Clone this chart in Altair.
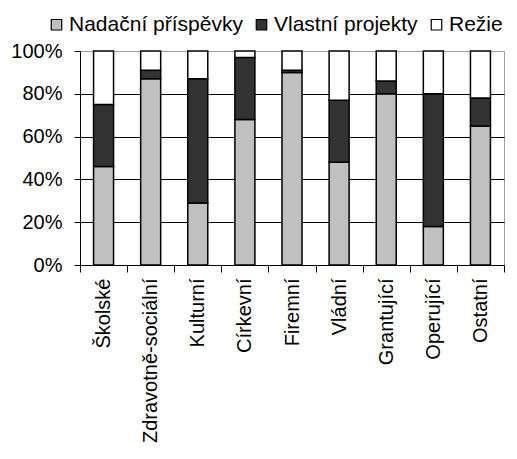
import altair as alt
import pandas as pd

categories = ["Školské", "Zdravotně-sociální", "Kulturní", "Církevní", "Firemní",
              "Vládní", "Grantující", "Operující", "Ostatní"]
series = ["Nadační příspěvky", "Vlastní projekty", "Režie"]
nadacni = [46, 87, 29, 68, 90, 48, 80, 18, 65]
vlastni = [29, 4, 58, 29, 1, 29, 6, 62, 13]
rezie = [25, 9, 13, 3, 9, 23, 14, 20, 22]
colors = ["#C0C0C0", "#333333", "#FFFFFF"]
y_ticks = [0, 0.2, 0.4, 0.6, 0.8, 1.0]

rows = []
for i, c in enumerate(categories):
    for j, (s, vals) in enumerate(zip(series, [nadacni, vlastni, rezie])):
        rows.append({"kategorie": c, "serie": s, "hodnota": vals[i], "poradi": j})
df = pd.DataFrame(rows)

FONT = "Liberation Sans"

chart = alt.Chart(df).mark_bar(size=20, stroke="black", strokeWidth=1.5).encode(
    x=alt.X("kategorie:N", sort=categories,
            scale=alt.Scale(paddingInner=0, paddingOuter=0),
            axis=alt.Axis(title=None, labelAngle=-90, labelAlign="right", labelBaseline="middle",
                          labelPadding=6, tickBand="extent", tickSize=7, tickColor="black",
                          domainColor="black", labelFontSize=20, labelFont=FONT,
                          labelColor="black", grid=False, labelLimit=300)),
    y=alt.Y("hodnota:Q", stack="normalize",
            scale=alt.Scale(domain=[0, 1], nice=False),
            axis=alt.Axis(title=None, values=y_ticks, format=".0%", tickSize=6,
                          tickColor="black", domainColor="black", labelPadding=12,
                          labelFontSize=20, labelFont=FONT, labelColor="black",
                          grid=True, gridWidth=1,
                          gridColor={"condition": {"test": "datum.value >= 1", "value": "#a0a0a0"},
                                     "value": "black"})),
    color=alt.Color("serie:N", sort=series,
                    scale=alt.Scale(domain=series, range=colors),
                    legend=alt.Legend(title=None, orient="none", direction="horizontal",
                                      legendX=-34, legendY=-37, symbolType="square",
                                      symbolSize=110, symbolStrokeColor="black",
                                      symbolStrokeWidth=1.2, labelFontSize=21,
                                      labelFont=FONT, labelColor="black", labelOffset=2,
                                      columnPadding=8, symbolOpacity=1,
                                      labelLimit=300)),
    order=alt.Order("poradi:Q", sort="ascending"),
).properties(
    width=424, height=214,
    autosize=alt.AutoSizeParams(type="none"),
    padding={"left": 72, "top": 43, "right": 5, "bottom": 186},
).configure_view(stroke="#a0a0a0", strokeWidth=1)

chart.save("out.html", embed_options={"renderer": "svg", "actions": False})
